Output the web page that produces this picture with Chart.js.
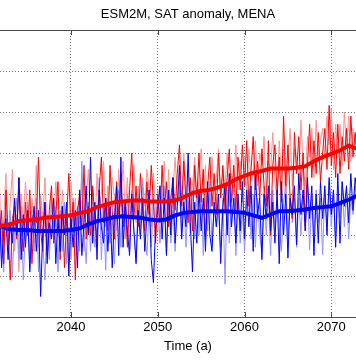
<!DOCTYPE html>
<html>
<head>
<meta charset="utf-8">
<script src="https://cdn.jsdelivr.net/npm/chart.js@4.4.1/dist/chart.umd.min.js"></script>
<style>
html,body{margin:0;padding:0;overflow:hidden;background:#fff;width:356px;height:364px;}
canvas{display:block;}
</style>
</head>
<body>
<canvas id="c" width="376" height="364"></canvas>
<script>
// Quarter-year sample times for the thin series
const quarterYears = [2031.5,2031.75,
2032,2032.25,2032.5,2032.75, 2033,2033.25,2033.5,2033.75, 2034,2034.25,2034.5,2034.75,
2035,2035.25,2035.5,2035.75, 2036,2036.25,2036.5,2036.75, 2037,2037.25,2037.5,2037.75,
2038,2038.25,2038.5,2038.75, 2039,2039.25,2039.5,2039.75, 2040,2040.25,2040.5,2040.75,
2041,2041.25,2041.5,2041.75, 2042,2042.25,2042.5,2042.75, 2043,2043.25,2043.5,2043.75,
2044,2044.25,2044.5,2044.75, 2045,2045.25,2045.5,2045.75, 2046,2046.25,2046.5,2046.75,
2047,2047.25,2047.5,2047.75, 2048,2048.25,2048.5,2048.75, 2049,2049.25,2049.5,2049.75,
2050,2050.25,2050.5,2050.75, 2051,2051.25,2051.5,2051.75, 2052,2052.25,2052.5,2052.75,
2053,2053.25,2053.5,2053.75, 2054,2054.25,2054.5,2054.75, 2055,2055.25,2055.5,2055.75,
2056,2056.25,2056.5,2056.75, 2057,2057.25,2057.5,2057.75, 2058,2058.25,2058.5,2058.75,
2059,2059.25,2059.5,2059.75, 2060,2060.25,2060.5,2060.75, 2061,2061.25,2061.5,2061.75,
2062,2062.25,2062.5,2062.75, 2063,2063.25,2063.5,2063.75, 2064,2064.25,2064.5,2064.75,
2065,2065.25,2065.5,2065.75, 2066,2066.25,2066.5,2066.75, 2067,2067.25,2067.5,2067.75,
2068,2068.25,2068.5,2068.75, 2069,2069.25,2069.5,2069.75, 2070,2070.25,2070.5,2070.75,
2071,2071.25,2071.5,2071.75, 2072,2072.25,2072.5,2072.75,
2073];
// Yearly times for the smoothed series
const years = [2031,2032,2033,2034,2035,2036,2037,2038,2039,2040,
2041,2042,2043,2044,2045,2046,2047,2048,2049,2050,
2051,2052,2053,2054,2055,2056,2057,2058,2059,2060,
2061,2062,2063,2064,2065,2066,2067,2068,2069,2070,
2071,2072,2073];

const redA = [0.45,-0.10,
0.30,-0.35,0.55,0.05, -0.55,0.20,0.35,-0.05, 0.70,0.10,-0.20,0.40,
0.00,0.55,-0.35,0.25, 0.15,0.95,0.05,-0.20, 0.40,-0.25,0.30,0.60,
-0.10,0.25,0.65,-0.30, 0.35,-0.40,0.20,0.75, 0.05,0.40,-0.55,0.30,
0.50,0.10,0.85,-0.05, 0.35,0.00,0.60,0.20, -0.10,0.55,0.95,0.15,
0.45,0.05,0.85,0.30, -0.05,0.65,0.25,0.75, 0.10,0.40,-0.15,0.55,
1.00,0.20,0.60,0.10, 0.75,0.30,0.05,0.65, 0.25,0.85,0.40,-0.10,
0.50,0.15,0.85,0.30, 0.65,0.10,0.45,0.70, 0.30,0.75,1.10,0.35,
0.90,0.40,0.15,0.70, 0.05,0.85,0.45,1.00, 0.40,0.80,-0.05,0.60,
0.95,0.35,0.75,0.25, 1.00,0.45,0.85,0.30, 0.70,1.05,0.40,0.85,
0.30,0.95,0.55,1.10, 0.60,1.15,0.35,0.80, 1.20,0.55,0.90,0.45,
1.05,0.60,0.35,1.15, 0.00,0.85,1.10,0.50, 0.95,0.40,1.45,0.60,
1.10,0.45,0.20,1.25, 0.75,1.20,0.55,1.00, 0.05,0.85,1.35,0.70,
1.15,0.75,1.25,0.65, 1.00,1.30,0.80,1.58, 0.85,1.25,0.70,1.35,
0.75,1.20,0.90,1.30, 0.80,1.45,0.95,1.25,
0.95];
const redB = [0.10,0.65,
-0.30,0.20,0.75,-0.10, 0.40,0.80,-0.20,0.25, -0.45,0.50,0.15,0.65,
0.30,-0.30,0.45,0.10, 0.85,-0.15,0.50,0.20, 0.70,0.05,-0.20,0.45,
0.10,0.65,0.30,-0.15, 0.55,0.15,0.40,-0.35, 0.65,0.20,0.45,0.00,
0.25,0.75,-0.20,0.40, 0.80,0.15,0.55,0.05, 0.75,0.30,0.50,0.90,
0.10,0.60,0.20,0.70, 0.45,0.05,0.80,0.35, 0.90,0.25,0.70,0.10,
0.50,0.85,0.15,0.60, 0.00,0.70,0.35,0.80, 0.55,0.10,0.75,0.25,
0.05,0.60,0.40,0.90, 0.20,0.80,0.05,0.55, 0.95,0.45,0.65,0.20,
1.00,0.50,0.80,0.30, 0.60,0.95,0.35,0.70, 1.05,0.50,0.85,0.15,
0.55,0.95,0.30,0.70, 1.05,0.45,0.80,0.60, 1.00,0.35,0.75,0.50,
1.10,0.55,0.90,0.40, 0.95,0.50,1.05,0.65, 0.75,1.15,0.60,1.00,
0.85,1.20,0.55,0.90, 0.75,1.25,0.65,0.45, 1.15,0.70,1.05,0.40,
0.95,1.30,0.60,1.05, 0.95,0.65,1.40,0.85, 0.60,1.20,0.95,1.30,
0.70,1.40,0.90,1.15, 1.30,0.95,1.45,1.10, 1.55,0.80,1.35,1.00,
1.35,0.85,1.50,1.05, 1.45,0.90,1.30,1.10,
1.30];
const blueA = [-0.20,0.35,
-0.40,0.05,0.20,-0.30, 0.15,-0.10,0.45,0.00, 0.70,-0.30,0.25,-0.15,
0.30,-0.45,0.10,0.35, -0.20,0.30,-0.75,0.05, 0.40,-0.35,0.15,-0.05,
0.45,-0.35,0.20,-0.20, 0.35,0.00,0.40,-0.50, 0.20,-0.15,0.30,-0.40,
0.55,-0.25,0.15,0.60, 0.00,0.95,-0.10,0.40, -0.30,0.55,0.10,-0.10,
0.45,-0.20,0.35,-0.40, 0.20,0.60,-0.25,0.95, -0.15,0.40,0.05,-0.25,
0.50,0.05,-0.35,0.30, -0.05,0.45,-0.20,0.25, 0.55,-0.30,-0.58,0.10,
0.30,0.60,-0.05,0.45, -0.25,0.55,0.00,0.70, -0.10,0.35,0.85,-0.05,
0.40,0.10,1.00,0.15, -0.45,0.40,-0.10,0.55, 0.05,0.45,-0.20,0.65,
0.00,-0.20,0.40,0.10, 0.50,-0.35,0.35,0.60, 0.00,0.75,0.10,0.45,
-0.10,0.50,0.05,0.65, -0.05,0.55,0.10,0.60, -0.20,0.75,0.25,0.45,
-0.30,0.50,0.20,0.60, 0.05,0.40,-0.10,0.55, -0.35,0.65,0.00,0.50,
-0.28,0.45,0.25,0.60, -0.12,0.75,0.25,0.55, 0.05,0.70,0.20,0.60,
-0.25,0.50,-0.10,0.65, 0.20,0.60,0.00,0.70, 0.25,0.55,-0.15,0.75,
-0.10,0.65,0.35,0.60, 0.15,0.75,0.30,0.70,
0.45];
const blueB = [0.30,-0.35,
0.15,-0.45,0.40,-0.20, 0.30,-0.50,0.15,0.45, -0.30,0.35,-0.55,0.05,
0.40,-0.40,0.25,-0.20, 0.45,-0.45,0.35,-0.10, -0.55,0.25,-0.30,0.45,
-0.10,0.35,-0.45,0.30, -0.20,0.40,-0.35,0.10, -0.30,0.45,-0.15,0.35,
-0.20,0.90,0.05,-0.35, 0.40,-0.20,0.30,-0.15, 0.10,0.70,-0.30,0.35,
-0.43,0.45,-0.10,0.20, -0.35,0.25,0.55,-0.15, 0.40,-0.05,0.50,-0.20,
0.55,0.05,-0.30,0.50, 0.10,0.65,0.00,-0.25, 0.30,-0.15,0.45,0.00,
0.55,-0.10,0.40,0.60, -0.25,0.45,-0.10,0.30, -0.20,0.40,0.55,-0.05,
0.50,-0.15,0.45,0.00, 0.55,-0.05,0.60,0.00, 0.50,-0.25,0.55,0.05,
0.65,-0.15,0.35,0.10, 0.30,-0.15,0.45,-0.60, 0.55,-0.10,0.40,0.60,
-0.25,0.45,-0.10,0.30, -0.20,0.40,0.55,-0.05, 0.50,-0.15,0.45,0.00,
-0.22,0.60,0.00,0.50, -0.25,0.55,0.05,0.45, 0.10,-0.20,0.40,0.60,
-0.05,0.50,0.15,0.45, -0.15,0.45,0.00,0.55, 0.10,0.60,-0.18,0.50,
0.00,0.55,0.15,0.45, -0.24,0.55,0.05,0.65, 0.10,0.55,-0.08,0.50,
0.20,0.65,0.10,0.55, -0.05,0.45,0.25,0.60,
0.30];
const redSmooth = [0.10,0.11,0.13,0.17,0.18,0.19,0.21,0.22,0.23,0.24,
0.27,0.29,0.34,0.37,0.40,0.41,0.42,0.42,0.41,0.41,
0.41,0.42,0.46,0.51,0.54,0.55,0.58,0.62,0.68,0.72,
0.76,0.78,0.81,0.81,0.81,0.82,0.84,0.90,0.95,0.99,
1.03,1.09,1.05];
const blueSmooth = [0.10,0.10,0.07,0.06,0.06,0.05,0.05,0.05,0.05,0.06,
0.08,0.13,0.17,0.19,0.22,0.23,0.22,0.21,0.19,0.18,
0.19,0.24,0.27,0.28,0.29,0.29,0.29,0.29,0.28,0.27,
0.24,0.21,0.25,0.29,0.29,0.30,0.31,0.33,0.34,0.35,
0.39,0.43,0.48];
const xTickValues = [2040,2050,2060,2070];

const pts = (xs, ys) => xs.map((x, i) => ({x: x, y: ys[i]}));
const FONT = "'Liberation Sans', Arial, Helvetica, sans-serif";
const AXIS = '#4a4a4a';

const boxPlugin = {
  id: 'box',
  afterDraw(chart) {
    const {ctx, chartArea: a, scales: {x}} = chart;
    ctx.save();
    ctx.strokeStyle = AXIS;
    ctx.lineWidth = 1;
    ctx.beginPath();
    ctx.moveTo(a.left, Math.round(a.top) + 0.5);
    ctx.lineTo(a.right, Math.round(a.top) + 0.5);
    x.ticks.forEach(t => {
      const px = Math.round(x.getPixelForValue(t.value)) + 0.5;
      ctx.moveTo(px, a.top);
      ctx.lineTo(px, a.top + 5);
      ctx.moveTo(px, a.bottom);
      ctx.lineTo(px, a.bottom - 5);
    });
    ctx.stroke();
    ctx.restore();
  }
};

const thin = (label, data, color, order) => ({label, data, borderColor: color, borderWidth: 1, pointRadius: 0, tension: 0, order});
const thick = (label, data, color, order) => ({label, data, borderColor: color, borderWidth: 4, pointRadius: 0, tension: 0, order});

new Chart(document.getElementById('c'), {
  type: 'line',
  data: {
    datasets: [
      thick('red smooth', pts(years, redSmooth), '#ff0000', 1),
      thick('blue smooth', pts(years, blueSmooth), '#0000ff', 2),
      thin('blue A', pts(quarterYears, blueA), '#0000ff', 3),
      thin('red A', pts(quarterYears, redA), '#ff0000', 4),
      thin('blue B', pts(quarterYears, blueB), 'rgb(145,145,255)', 5),
      thin('red B', pts(quarterYears, redB), 'rgb(255,145,145)', 6)
    ]
  },
  options: {
    responsive: false,
    animation: false,
    events: [],
    layout: {padding: {left: 0, right: 0, top: 0, bottom: 9.8}},
    plugins: {
      legend: {display: false},
      tooltip: {enabled: false},
      title: {
        display: true,
        text: 'ESM2M, SAT anomaly, MENA',
        color: '#000',
        font: {family: FONT, size: 13, weight: 'normal'},
        padding: {top: 7, bottom: 7.4}
      }
    },
    scales: {
      x: {
        type: 'linear',
        min: 2031.818,
        max: 2075.15,
        afterBuildTicks: (s) => { s.ticks = xTickValues.map(v => ({value: v})); },
        ticks: {
          color: '#000',
          font: {family: FONT, size: 13},
          padding: 3,
          maxRotation: 0,
          autoSkip: false,
          callback: (v) => String(v)
        },
        grid: {color: 'rgba(0,0,0,0.55)', drawTicks: false, lineWidth: 1},
        border: {display: true, color: AXIS, width: 1, dash: [1, 2]},
        title: {
          display: true,
          text: 'Time (a)',
          color: '#000',
          font: {family: FONT, size: 13},
          padding: {top: 0, bottom: 0}
        }
      },
      y: {
        type: 'linear',
        min: -1,
        max: 2.5,
        afterFit: (s) => { s.width = 0; },
        ticks: {display: false, stepSize: 0.5},
        grid: {color: 'rgba(0,0,0,0.55)', drawTicks: false, lineWidth: 1},
        border: {display: false, dash: [1, 2]}
      }
    }
  },
  plugins: [boxPlugin]
});
</script>
</body>
</html>
